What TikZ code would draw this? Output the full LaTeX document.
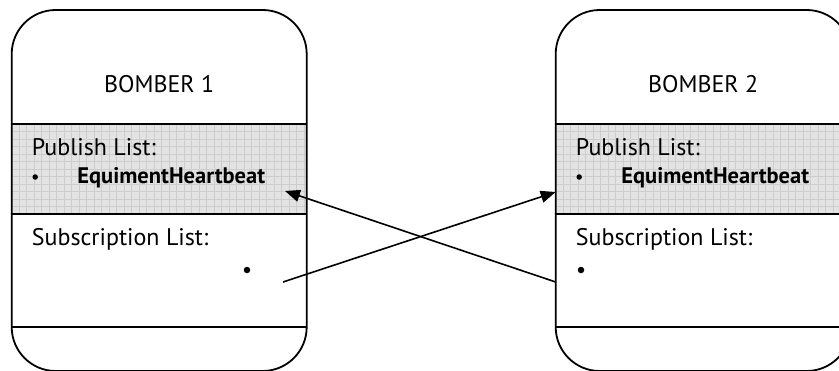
\documentclass[tikz,border=0pt]{standalone}
\usepackage{fontspec}
\setmainfont{PT Sans}
\usetikzlibrary{arrows.meta}

\definecolor{bandfill}{HTML}{E3E3E3}
\definecolor{bandgrid}{HTML}{CDCDCD}

\tikzset{
  outline/.style={draw=black, line width=1.8pt},
  bomberbox/.style={outline, rounded corners=44pt},
  divider/.style={draw=black, line width=1.8pt},
  label/.style={inner sep=0pt, font=\fontsize{24}{28}\selectfont},
  boldlabel/.style={label, font=\fontsize{22.5}{26}\selectfont\bfseries},
  dot/.style={circle, fill=black, inner sep=0pt, minimum size=#1},
  link/.style={draw=black, line width=1.6pt, -{Triangle[length=15pt, width=12pt]}}
}

\begin{document}
\begin{tikzpicture}[x=1pt, y=-1pt]
  \useasboundingbox (0,0) rectangle (839,370);
  \clip (0,0) rectangle (839,370);

  % one bomber panel: name prefix, left edge, title, x of the subscription bullet
  \foreach \nm/\xl/\ttl/\bx in {one/11.7/{BOMBER 1}/247, two/555.7/{BOMBER 2}/581}{
    % grey publish band with its fine grid
    \fill[bandfill] (\xl,124) rectangle ++(295,90);
    \begin{scope}
      \clip (\xl,124) rectangle ++(295,90);
      \draw[bandgrid, line width=0.6pt, xstep=7.5pt, ystep=7.5pt, shift={(\xl,124)}] (0,0) grid (300,95);
    \end{scope}
    % outer rounded panel
    \draw[bomberbox] (\xl,10) rectangle ++(295,361);
    % section dividers
    \draw[divider] (\xl,124) -- ++(295,0);
    \draw[divider] (\xl,214) -- ++(295,0);
    \draw[divider] (\xl,327) -- ++(295,0);
    % texts
    \node[label, anchor=base] (\nm-title) at (\xl+147.5,92) {\ttl};
    \node[label, anchor=base west] (\nm-pub) at (\xl+20,155) {Publish List:};
    \node[dot=5.5pt] (\nm-pubdot) at (\xl+23.5,177) {};
    \node[boldlabel, anchor=base west] (\nm-item) at (\xl+65.5,183) {EquimentHeartbeat};
    \node[label, anchor=base west] (\nm-sub) at (\xl+20,245) {Subscription List:};
    \node[dot=6.5pt] (\nm-subdot) at (\bx,270) {};
  }

  % subscription / publish links
  \coordinate (subOne) at (283,282);
  \coordinate (pubTwo) at (555.7,192);
  \coordinate (subTwo) at (555.7,282);
  \coordinate (pubOne) at (285,191);
  \draw[link] (subOne) -- (pubTwo);
  \draw[link] (subTwo) -- (pubOne);
\end{tikzpicture}
\end{document}
